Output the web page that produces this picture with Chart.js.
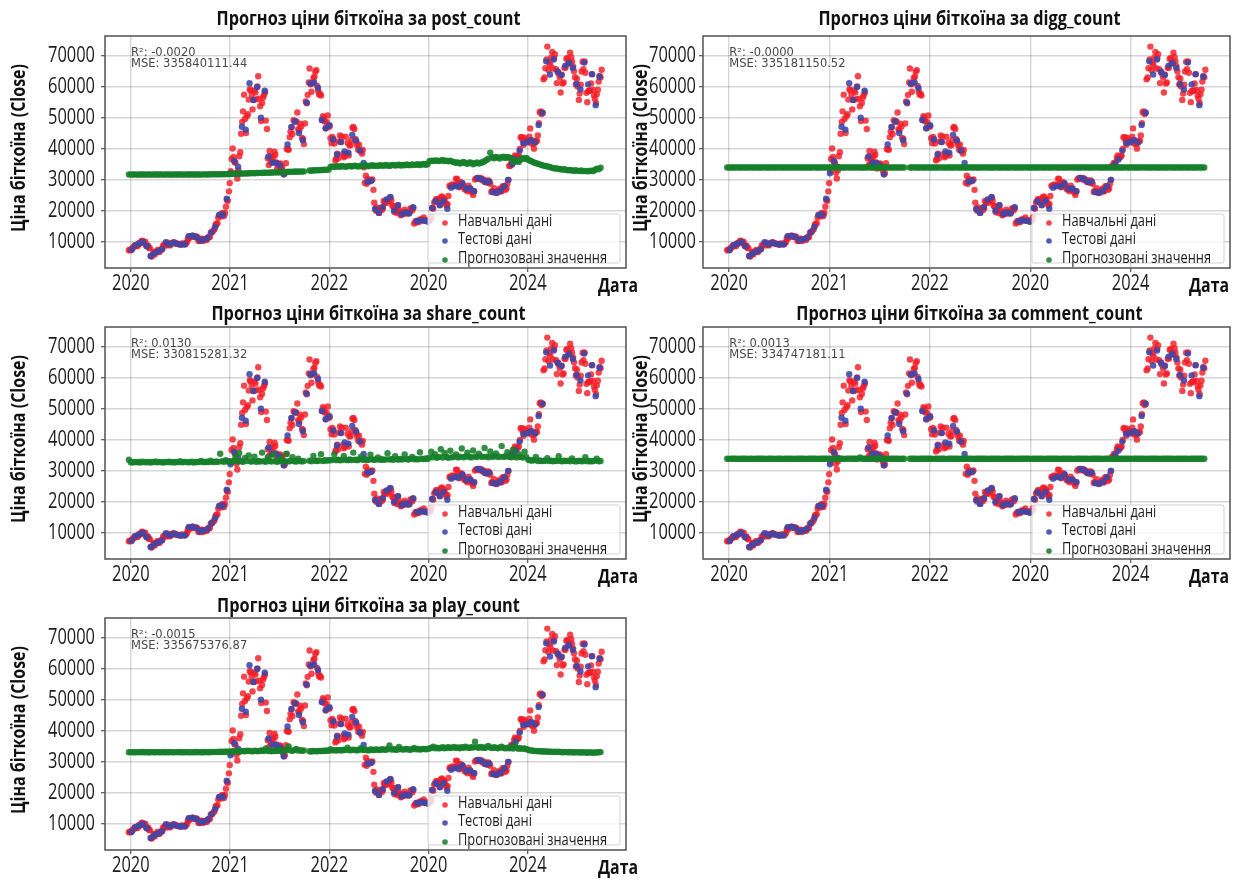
<!DOCTYPE html>
<html>
<head>
<meta charset="utf-8">
<script src="https://cdn.jsdelivr.net/npm/chart.js@4.4.1/dist/chart.umd.min.js"></script>
<style>
  html, body { margin: 0; padding: 0; background: #ffffff; }
  #wrap { position: relative; width: 1238px; height: 883px; overflow: hidden; background: #ffffff; }
  #wrap canvas { position: absolute; left: 0; top: 0; }
</style>
</head>
<body>
<div id="wrap"></div>
<script>
// ---------------------------------------------------------------------------
// Data
// Training closes: Wednesdays from 25 Dec 2019 (day -7 relative to 1 Jan 2020)
const wedStartDay = -7;
const closeTrainWed = [
  7250,
  // 2020
  7200, 8080, 8820, 8660, 9390, 9620, 10350, 9600, 8790, 8760,
  7910, 5230, 6700, 6640, 7300, 6640, 7550, 8790, 9160, 9310,
  9080, 9200, 9670, 9770, 9460, 9250, 9230, 9430, 9130, 9530,
  11100, 11760, 11570, 11750, 11470, 11400, 10240, 10950, 10230, 10780,
  10600, 11430, 12820, 13270, 14130, 15700, 17800, 18730, 19200, 18320,
  21300, 23240, 28950,
  // 2021
  36770, 37390, 35510, 30430, 37620, 44880, 52150, 49710, 50540, 55950,
  58920, 52780, 58920, 56050, 63500, 53800, 54860, 57420, 49150, 37000,
  39300, 37570, 37350, 38100, 33700, 35040, 33800, 32820, 32110, 39970,
  39750, 45590, 44800, 48990, 48850, 46400, 48150, 43580, 41560, 55360,
  57480, 65990, 58480, 62940, 64950, 60370, 57570, 57230, 50580, 48900,
  48640, 47190,
  // 2022
  43450, 43900, 41740, 36850, 36900, 44350, 43940, 37300, 43920, 41980,
  41140, 42910, 47060, 43200, 41150, 41370, 39240, 39700, 29030, 28720,
  29540, 29800, 30110, 22580, 19970, 20100, 20550, 20250, 23160, 22930,
  22610, 23950, 23340, 21530, 20050, 19290, 20230, 18550, 19420, 20340,
  19150, 19130, 20770, 20160, 15880, 16670, 16600, 17170, 17090, 17800,
  16820, 16550,
  // 2023
  16850, 17940, 20680, 23060, 23730, 22960, 24320, 24190, 23650, 21700,
  24770, 28110, 28470, 28170, 30390, 28820, 28430, 29030, 27650, 27410,
  26330, 27220, 26350, 25120, 30080, 30450, 30510, 30630, 29860, 29350,
  29700, 29770, 28700, 26430, 27300, 25750, 26230, 27130, 26360, 27790,
  26760, 28720, 34500, 35420, 35650, 37880, 37290, 37860, 43790, 42890,
  43650, 42580,
  // 2024
  42840, 46630, 42740, 40080, 42580, 44340, 51840, 51300, 62500, 66110,
  73080, 67910, 69460, 65980, 70590, 61280, 64300, 58250, 61190, 66210,
  69120, 67580, 71080, 68240, 65150, 60840, 60200, 57890, 65040, 65810,
  64620, 55120, 58740, 61180, 59040, 56180, 57640, 61770, 63140
];

// Training closes: Sundays from 29 Dec 2019 (day -3)
const sunStartDay = -3;
const closeTrainSun = [
  7390,
  // 2020
  7760, 8190, 8700, 8600, 9340, 10160, 9930, 9980, 8560, 8030,
  5360, 5830, 5880, 6780, 6910, 7120, 7700, 8900, 8750, 9670,
  8790, 9450, 9760, 9390, 9300, 9110, 9070, 9280, 9180, 9930,
  11050, 11680, 11910, 11660, 11710, 10280, 10330, 10920, 10780, 10670,
  11380, 11500, 13030, 13740, 15480, 15960, 18400, 18180, 19150, 19270,
  23480, 26270,
  // 2021
  32780, 40150, 35790, 32290, 33110, 38900, 48720, 57540, 45140, 51210,
  59300, 57520, 55780, 58210, 60200, 56220, 49000, 56630, 58230, 46430,
  34770, 35680, 35800, 39100, 35600, 34650, 35290, 34240, 31780, 35400,
  39870, 43800, 47050, 49320, 48900, 51750, 46060, 47260, 43210, 48200,
  54770, 61530, 60930, 61320, 63330, 65470, 58620, 57810, 49400, 50100,
  46700, 50800,
  // 2022
  47350, 41860, 43110, 36280, 38480, 42410, 42200, 38350, 37710, 38420,
  37850, 41250, 46820, 46410, 42210, 39720, 39450, 38470, 34060, 31300,
  30290, 29440, 29900, 26760, 20550, 21030, 19300, 20850, 20790, 22580,
  23340, 23180, 24310, 21530, 19560, 19990, 21830, 19420, 18800, 19050,
  19440, 19270, 19570, 20630, 20910, 16330, 16290, 16460, 17130, 17100,
  16740, 16840,
  // 2023
  16620, 17130, 20880, 22710, 23770, 22940, 21790, 24640, 23560, 22430,
  22160, 28040, 27990, 28200, 28330, 30310, 27590, 29230, 28450, 26920,
  26750, 28070, 27120, 25850, 26340, 30480, 30620, 30170, 30230, 30080,
  29280, 29050, 29410, 26100, 26100, 25970, 25840, 26530, 26250, 27980,
  27940, 27160, 29990, 34530, 35050, 37060, 37360, 37480, 39980, 43780,
  41360, 43010, 42270,
  // 2024
  43940, 41730, 41580, 42030, 42580, 48300, 52140, 51730, 63110, 68960,
  65490, 67210, 71330, 69360, 65740, 64940, 63110, 63980, 61480, 66270,
  69400, 67760, 69640, 66640, 63210, 62680, 55850, 60790, 68160, 68250,
  58120, 58710, 58970, 64180, 57300, 54840, 59130, 63580, 65600
];

// Held-out closes: every second Saturday from 4 Jan 2020 (day 3)
const testStartDay = 3;
const testStepDays = 14;
const closeTest = [
  7410, 8900, 9390, 9900, 8540, 5380, 6250, 6880, 7550, 9810,
  9170, 9670, 9300, 9070, 9170, 11810, 11910, 11540, 10440, 10730,
  11300, 13030, 14820, 18680, 18700, 23860, 32130, 36070, 34270, 47170,
  46190, 61240, 55840, 60040, 50090, 58800, 37530, 35520, 35480, 34660,
  31780, 41460, 47100, 48900, 45160, 42810, 54970, 61130, 61520, 59700,
  49370, 46680, 47690, 43080, 38170, 42210, 39140, 38810, 44550, 42750,
  39520, 35470, 29430, 29700, 20550, 19300, 21210, 23630, 24440, 20040,
  21770, 18930, 19450, 19170, 21150, 16700, 16890, 16760, 16550, 20880,
  23080, 21860, 23160, 20630, 27480, 27950, 27820, 28860, 27120, 27250,
  26340, 30590, 30290, 29320, 29410, 26010, 25900, 26530, 27950, 29990,
  35050, 36570, 39460, 41930, 42150, 42850, 42120, 47770, 51730, 68310,
  64040, 68900, 64940, 63890, 66940, 67760, 66190, 60970, 59210, 67910,
  60880, 64180, 54150, 63350
];

// Model predictions on the Wednesday dates (null = date missing)
const predPost = [
  31750, 31700, 31720, 31760, 31700, 31740, 31710, 31760, 31730, 31700,
  31750, 31720, 31700, 31760, 31740, 31710, 31730, 31760, 31700, 31720,
  31750, 31740, 31700, 31730, 31760, 31720, 31710, 31750, 31740, 31700,
  31760, 31730, 31720, 31750, 31710, 31740, 31760, 31730, 31700, 31750,
  31780, 31740, 31760, 31800, 31770, 31790, 31820, 31780, 31800, 31830,
  31810, 31850, 31830, 31860,
  31900, 31950, 31880, 32000, 31960, 32050, 32020, 32100, 32060, 32150,
  32120, 32180, 32150, 32220, 32200, 32260, 32230, 32300, 32280, 32340,
  32310, 32380, 32350, 32420, 32400, 32450, 32430,
  32500, 32560, 32520, 32600, 32580, 32650, 32620, 32680, 32640, 32700,
  32660, 32720, null, null,
  33000, 32950, 33080, 33050, 33150, 33100, 33200, 33180, 33260, 33220, 33300,
  34200, 34350, 34150, 34400, 34300, 34250, 34450, 34350, 34200, 34400,
  34500, 34300, 34450, 34550, 34400, 34350, 34600, 34450, 34500, 34650,
  34400, 34550, 34700, 34500, 34600, 34450, 34750, 34600, 34550, 34800,
  34650, 34500, 34700, 34850, 34600, 34750, 34900, 34650, 34800, 34700,
  34950, 34800, 34750, 35000, 34850, 34900, 35050, 34800, 34950, 35100,
  34900, 35050,
  36000, 36200, 36100, 36300, 36150, 36050, 36250, 36400, 36100, 36200,
  36000, 36150, 35900,
  35700, 35500, 35600, 35300, 35500, 35800, 35400, 35200, 35600, 35500,
  35000, 35400, 35600, 35300, 35500, 35700,
  36000, 36400, 36800, 38800,
  37300, 37000, 37400, 37200, 36900, 37300, 37500, 37100, 37400, 37200, 37000,
  36100, 35900, 36200, 35800, 36600, 37000, 36800, 37100,
  36500, 36200, 35900, 35600, 35400, 35200, 35000, 34800, 34600, 34500,
  34300, 34200, 34000,
  33800, 33700, 33650, 33500, 33450, 33300, 33400, 33200, 33100, 33200,
  33000, 32950, 33100, 32900, 32850, 33000, 32800, 32900, 32750, 32850,
  32950, 32800,
  33200, 33600, 33400, 33900
];

const predDigg = [
  34000, 33980, 34020, 33990, 34010, 34030, 33970, 34000, 34020, 33990,
  34010, 33980, 34030, 34000, 33970, 34020, 34010, 33990, 34000, 34030,
  33980, 34010, 34000, 34020, 33990, 33970, 34010, 34030, 34000, 33980,
  34020, 34000, 33990, 34010, 34030, 33980, 34000, 34020, 33990, 34010,
  34000, 33970, 34020, 34010, 33990, 34030, 34000, 33980, 34010, 34020,
  33990, 34000, 34030, 34010, 33980, 34020, 34000, 33990, 34010, 34030,
  34000, 33980, 34020, 34040, 33990, 34010, 34000, 34030, 33980, 34020,
  34010, 34000, 33990, 34030, 34020, 33980, 34010, 34000, 34040, 33990,
  34020, 34000, 34010, 33980, 34030, 34000, 33990, 34020, 34010, 34000,
  33980, 34020, 34010, null, null, 34000, 33990, 34030, 34010, 33980,
  34000, 34020, 33990, 34010, 34030, 34000, 34010, 33980, 34020, 34000,
  33990, 34030, 34010, 34000, 33980, 34020, 34010, 33990, 34000, 34030,
  34010, 33980, 34000, 34020, 33990, 34010, 34030, 34000, 33980, 34020,
  34000, 34010, 33990, 34030, 34000, 34020, 33980, 34010, 34000, 33990,
  34030, 34010, 34000, 33980, 34020, 34000, 34010, 33990, 34030, 34000,
  33980, 34020, 34010, 34000, 33990, 34030, 34000, 34010, 33980, 34020,
  34000, 33990, 34010, 34030, 34000, 33980, 34020, 34010, 34000, 33990,
  34030, 34000, 34010, 33980, 34020, 34000, 33990, 34010, 34030, 34000,
  33980, 34020, 34000, 34010, 33990, 34030, 34000, 34020, 33980, 34010,
  34000, 33990, 34030, 34010, 34000, 33980, 34020, 34000, 34010, 33990,
  34030, 34000, 33980, 34020, 34010, 34000, 33990, 34030, 34000, 34010,
  33980, 34020, 34000, 34010, 33990, 34030, 34000, 34020, 33980, 34010,
  34000, 33990, 34030, 34010, 34000, 33980, 34020, 34000, 34010, 33990,
  34030, 34000, 34010, 33980, 34020, 34000, 33990, 34010, 34030, 34000,
  33980, 34020, 34000, 34010, 33990, 34030, 34000, 34020, 34010
];

const predShare = [
  33600, 32800, 32700, 32900, 32750, 32850, 32700, 32950, 32800, 32750,
  32900, 32700, 32850, 32800, 33000, 32750, 32900, 32800, 32700, 32850,
  32800, 32950, 32750, 32850, 32700, 32900, 32800, 33100, 32750, 32850,
  32900, 32750, 32800, 32950, 32700, 32850, 32800, 32900, 33200, 32800,
  32850, 32950, 32800, 33300, 32900, 32850, 33000, 32900, 35500, 33100,
  32950, 33400, 33000, 33100, 32900, 33200, 34500, 33000, 35800, 33100,
  32900, 34200, 33200, 35000, 33000, 33100, 34600, 32950, 33200, 33000,
  35900, 33100, 32900, 34300, 33200, 33000, 35200, 33100, 32950, 33200,
  34000, 33000, 33150, 35500, 33050, 33200, 34400, 33100, 33000, 33900,
  33200, 33050, 33150, null, null, 33300, 33100, 34800, 33250, 33150,
  33350, 35400, 33200, 33400, 33300, 33450, 33400, 33550, 35400, 33450,
  33600, 33400, 33500, 34800, 33550, 33450, 33650, 33500, 35900, 33600,
  33450, 33650, 34600, 33550, 33700, 33500, 33600, 35200, 33650, 33550,
  33700, 34300, 33600, 33750, 33550, 33700, 35700, 33650, 33800, 33600,
  34700, 33750, 33650, 33850, 33700, 35300, 33800, 33650, 33900, 34500,
  33750, 33850, 33700, 36000, 33900, 33800, 34000, 33850, 34300, 36200,
  34400, 35400, 34200, 34500, 37000, 34300, 35800, 34450, 34250, 36500,
  34400, 34600, 35300, 34350, 34550, 37200, 34400, 34650, 35900, 34500,
  34350, 36600, 34600, 34450, 35500, 34700, 34500, 37400, 34600, 34400,
  36300, 34550, 34700, 35600, 34450, 34600, 38000, 34500, 34700, 36000,
  34600, 34400, 36800, 34550, 34350, 35400, 34500, 34300, 36200, 34400,
  33600, 33400, 33300, 33500, 34500, 33200, 33350, 33150, 33300, 33250,
  34100, 33200, 33300, 33100, 33250, 33150, 34700, 33200, 33100, 33300,
  33150, 33250, 33100, 34000, 33200, 33050, 33150, 33250, 33100, 33200,
  34400, 33100, 33200, 33050, 33150, 33300, 33900, 33100, 33200
];

const predComment = [
  33900, 33880, 33920, 33890, 33910, 33930, 33870, 33900, 33920, 33890,
  33910, 33880, 33930, 33900, 33870, 33920, 33910, 33890, 33900, 33930,
  33880, 33910, 33900, 33920, 33890, 33870, 33910, 33930, 33900, 33880,
  33920, 33900, 33890, 33910, 33930, 33880, 33900, 33920, 33890, 33910,
  33900, 33870, 33920, 33910, 33890, 33930, 33900, 33880, 33910, 33920,
  33890, 33900, 33930, 33910, 33880, 33920, 33900, 33890, 33910, 33930,
  33900, 33880, 33920, 33940, 33890, 33910, 33900, 33930, 33880, 34300,
  33910, 33900, 33890, 33930, 33920, 33880, 33910, 33900, 33940, 33890,
  33920, 33900, 33910, 33880, 33930, 33900, 33890, 33920, 33910, 33900,
  33880, 33920, 33910, null, null, 33900, 33890, 33930, 33910, 33880,
  33900, 33920, 33890, 33910, 33930, 33900, 33910, 33880, 33920, 33900,
  33890, 33930, 33910, 33900, 33880, 33920, 33910, 33890, 33900, 33930,
  33910, 33880, 33900, 33920, 33890, 33910, 33930, 33900, 33880, 33920,
  33900, 33910, 33890, 33930, 33900, 33920, 33880, 33910, 33900, 33890,
  33930, 33910, 33900, 33880, 33920, 33900, 33910, 33890, 33930, 33900,
  33880, 33920, 33910, 33900, 33890, 33930, 33900, 33910, 33880, 33920,
  33900, 33890, 33910, 33930, 33900, 33880, 33920, 33910, 33900, 33890,
  33930, 33900, 33910, 33880, 33920, 33900, 33890, 33910, 33930, 33900,
  33880, 33920, 33900, 33910, 33890, 33930, 33900, 33920, 33880, 33910,
  33900, 33890, 33930, 33910, 33900, 33880, 33920, 33900, 33910, 33890,
  33930, 33900, 33880, 33920, 33910, 33900, 33890, 33930, 33900, 33910,
  33880, 33920, 33900, 33910, 33890, 33930, 33900, 33920, 33880, 33910,
  33900, 33890, 33930, 33910, 33900, 33880, 33920, 33900, 33910, 33890,
  33930, 33900, 33910, 33880, 33920, 33900, 33890, 33910, 33930, 33900,
  33880, 33920, 33900, 33910, 33890, 33930, 33900, 33920, 33910
];

const predPlay = [
  33100, 33150, 33080, 33120, 33060, 33140, 33100, 33170, 33090, 33130,
  33110, 33060, 33150, 33100, 33080, 33140, 33120, 33070, 33160, 33100,
  33130, 33090, 33150, 33110, 33070, 33140, 33100, 33160, 33080, 33120,
  33150, 33100, 33070, 33130, 33110, 33160, 33090, 33140, 33120, 33080,
  33170, 33130, 33100, 33200, 33150, 33180, 33220, 33160, 33250, 33200,
  33280, 33240, 33300, 33260, 33350, 33420, 33300, 33500, 33380, 33450,
  33520, 33400, 33600, 33480, 33550, 33380, 33620, 33500, 33450, 33580,
  33650, 33480, 34300, 33550, 33600, 33420, 33700, 33520, 33580, 33650,
  33500, 33720, 33600, 34000, 35000, 33700, 33550, 33800, 34200, 33650,
  33750, 33600, 33700, null, null, 33400, 33350, 33500, 33450, 33400,
  33550, 33450, 33600, 33500, 33650, 33550, 34100, 33700, 33800, 33650,
  33850, 33750, 33700, 33900, 33800, 34600, 33750, 33850, 33950, 33800,
  33700, 33900, 34400, 33850, 33950, 33800, 33700, 34000, 33900, 33850,
  34000, 33900, 33800, 34050, 33950, 33900, 34100, 35300, 33950, 34050,
  34000, 33900, 34800, 34100, 33950, 34050, 34150, 34000, 33900, 34100,
  34500, 34050, 34150, 34000, 34100, 34200, 34050, 34150, 34300, 34500,
  34900, 34400, 34600, 34350, 34500, 34700, 34400, 34550, 34700, 34450,
  34600, 34800, 34500, 34650, 34400, 34700, 34550, 34900, 34600, 34500,
  34750, 34600, 36500, 34700, 34550, 34800, 34650, 34500, 34700, 35100,
  34600, 34450, 34700, 34550, 34400, 34650, 34900, 34500, 34350, 34600,
  34400, 34550, 34300, 35300, 34450, 34250, 34400, 34200, 34350, 34100,
  33900, 33700, 33650, 33500, 33550, 33400, 33450, 33350, 33400, 33300,
  33350, 33250, 33300, 33200, 33300, 33150, 33250, 33200, 33100, 33200,
  33150, 33050, 33200, 33100, 33000, 33150, 33050, 33100, 33000, 33100,
  33050, 32950, 33100, 33000, 32950, 33050, 33000, 33100, 33150
];

const features = ['post_count', 'digg_count', 'share_count', 'comment_count', 'play_count'];
const predictions = [predPost, predDigg, predShare, predComment, predPlay];
const r2Scores = ['-0.0020', '-0.0000', '0.0130', '0.0013', '-0.0015'];
const mseScores = ['335840111.44', '335181150.52', '330815281.32', '334747181.11', '335675376.87'];

const xTickYears = [2020, 2021, 2022, 2023, 2024];
const xTickLabels = ['2020', '2021', '2022', '2020', '2024'];
const yTickValues = [10000, 20000, 30000, 40000, 50000, 60000, 70000];

const seriesLabels = ['Навчальні дані', 'Тестові дані', 'Прогнозовані значення'];
const titlePrefix = 'Прогноз ціни біткоїна за ';
const yAxisTitle = 'Ціна біткоїна (Close)';
const xAxisTitle = 'Дата';

// ---------------------------------------------------------------------------
// Layout and style
const W = 1238, H = 883;
const BASE = "'Open Sans', 'Noto Sans', 'DejaVu Sans', sans-serif";
const COLORS = {
  train: 'rgba(244, 28, 38, 0.82)',
  test: 'rgba(58, 72, 172, 0.88)',
  pred: 'rgba(22, 128, 42, 0.88)'
};
const X_MIN = 2019.74, X_MAX = 2024.99;
const Y_MIN = 1490, Y_MAX = 76510;
const Y_W = 100, X_H = 40;
const POINT_R = 3.2;

// condensed text styles: font, and a reference string with the width it should take
const TEXT = {
  tick:   { font: '400 21px ' + BASE, sample: '70000', width: 47 },
  title:  { font: '700 19px ' + BASE, sample: titlePrefix + 'post_count', width: 304 },
  yTitle: { font: '700 19.5px ' + BASE, sample: yAxisTitle, width: 168 },
  legend: { font: '400 17px ' + BASE, sample: 'Прогнозовані значення', width: 149 },
  xLabel: { font: '700 20px ' + BASE, sample: xAxisTitle, width: 40 }
};

// chart-area boxes for the five panels
const panels = [
  { L: 105, T: 36,  R: 626,  B: 268, titleY: 20,  yTitleX: 19,  yTickGap: 10, xLabelDx: 12 },
  { L: 703, T: 36,  R: 1230, B: 268, titleY: 20,  yTitleX: 641, yTickGap: 7,  xLabelDx: -1 },
  { L: 105, T: 327, R: 626,  B: 559, titleY: 315, yTitleX: 19,  yTickGap: 10, xLabelDx: 12 },
  { L: 703, T: 327, R: 1230, B: 559, titleY: 315, yTitleX: 641, yTickGap: 7,  xLabelDx: -1 },
  { L: 105, T: 618, R: 626,  B: 850, titleY: 607, yTitleX: 19,  yTickGap: 10, xLabelDx: 12 }
];

const dayToYear = d => 2020 + d / 365.25;

function seriesPoints(values, startDay, stepDays) {
  const pts = [];
  values.forEach((v, k) => {
    if (v !== null) pts.push({ x: dayToYear(startDay + k * stepDays), y: v });
  });
  return pts;
}

// draws a string horizontally squeezed so that the style's sample string has its set width
function drawText(ctx, style, text, x, y, align, color, rotation) {
  ctx.save();
  ctx.font = style.font;
  const sx = style.width / ctx.measureText(style.sample).width;
  ctx.translate(x, y);
  if (rotation) ctx.rotate(rotation);
  ctx.scale(sx, 1);
  ctx.fillStyle = color;
  ctx.textAlign = align;
  ctx.textBaseline = 'middle';
  ctx.fillText(text, 0, 0);
  ctx.restore();
}

// frame, texts, metrics and the inner legend of one panel
const panelDecor = {
  id: 'panelDecor',
  afterDatasetsDraw(chart, args, o) {
    const { ctx, chartArea: a, scales } = chart;
    const p = o.panel;
    ctx.save();

    // axes frame
    ctx.strokeStyle = '#5c5c5c';
    ctx.lineWidth = 1.6;
    ctx.strokeRect(a.left, a.top, a.right - a.left, a.bottom - a.top);

    // tick labels
    xTickYears.forEach((v, i) => {
      drawText(ctx, TEXT.tick, xTickLabels[i], scales.x.getPixelForValue(v), a.bottom + 16.5, 'center', '#1c1c1c');
    });
    yTickValues.forEach(v => {
      drawText(ctx, TEXT.tick, String(v), a.left - p.yTickGap, scales.y.getPixelForValue(v), 'right', '#1c1c1c');
    });

    // titles
    drawText(ctx, TEXT.title, titlePrefix + o.feature, (a.left + a.right) / 2 + 3, p.titleY, 'center', '#111');
    drawText(ctx, TEXT.yTitle, yAxisTitle, p.yTitleX, (a.top + a.bottom) / 2 - 4, 'center', '#111', -Math.PI / 2);
    drawText(ctx, TEXT.xLabel, xAxisTitle, a.right + p.xLabelDx, a.bottom + 18.5, 'right', '#111');

    // metrics
    const w = a.right - a.left;
    ctx.font = "11.5px 'DejaVu Sans', sans-serif";
    ctx.fillStyle = 'rgba(45, 45, 45, 0.88)';
    ctx.textAlign = 'left';
    ctx.textBaseline = 'middle';
    ctx.fillText('R²: ' + o.r2, a.left + 0.05 * w, a.top + 17.5);
    ctx.fillText('MSE: ' + o.mse, a.left + 0.05 * w, a.top + 28.5);

    // legend box in the lower right corner
    const bx0 = a.right - 198, bx1 = a.right - 6;
    const by0 = a.bottom - 54, by1 = a.bottom - 5;
    ctx.fillStyle = 'rgba(255, 255, 255, 0.8)';
    ctx.strokeStyle = 'rgba(205, 205, 205, 0.9)';
    ctx.lineWidth = 1;
    ctx.beginPath();
    ctx.roundRect(bx0, by0, bx1 - bx0, by1 - by0, 2);
    ctx.fill();
    ctx.stroke();
    const rowsY = [a.bottom - 47, a.bottom - 29, a.bottom - 10];
    const cols = [COLORS.train, COLORS.test, COLORS.pred];
    seriesLabels.forEach((lab, i) => {
      ctx.fillStyle = cols[i];
      ctx.beginPath();
      ctx.arc(bx0 + 17, rowsY[i] + 2, 2.8, 0, Math.PI * 2);
      ctx.fill();
      drawText(ctx, TEXT.legend, lab, bx0 + 30, rowsY[i], 'left', '#1e1e1e');
    });

    ctx.restore();
  }
};

const wrap = document.getElementById('wrap');

panels.forEach((p, i) => {
  const cv = document.createElement('canvas');
  cv.width = W;
  cv.height = H;
  wrap.appendChild(cv);

  const trainPts = seriesPoints(closeTrainWed, wedStartDay, 7)
    .concat(seriesPoints(closeTrainSun, sunStartDay, 7));

  new Chart(cv, {
    type: 'scatter',
    data: {
      datasets: [
        { label: seriesLabels[0], data: trainPts, backgroundColor: COLORS.train,
          borderWidth: 0, pointRadius: POINT_R, order: 3 },
        { label: seriesLabels[1], data: seriesPoints(closeTest, testStartDay, testStepDays),
          backgroundColor: COLORS.test, borderWidth: 0, pointRadius: POINT_R, order: 2 },
        { label: seriesLabels[2], data: seriesPoints(predictions[i], wedStartDay, 7),
          backgroundColor: COLORS.pred, borderWidth: 0, pointRadius: POINT_R, order: 1 }
      ]
    },
    options: {
      responsive: false,
      animation: false,
      devicePixelRatio: 1,
      events: [],
      layout: {
        padding: { left: p.L - Y_W, right: W - p.R, top: p.T, bottom: H - p.B - X_H }
      },
      plugins: {
        legend: { display: false },
        tooltip: { enabled: false },
        title: { display: false },
        panelDecor: { panel: p, feature: features[i], r2: r2Scores[i], mse: mseScores[i] }
      },
      scales: {
        x: {
          type: 'linear',
          min: X_MIN,
          max: X_MAX,
          afterBuildTicks: s => { s.ticks = xTickYears.map(v => ({ value: v })); },
          afterFit: s => { s.height = X_H; },
          ticks: { display: false },
          grid: { color: 'rgba(0,0,0,0.16)', lineWidth: 1.4, drawTicks: true, tickLength: 4,
                  tickColor: '#555', tickWidth: 1.2 },
          border: { display: false }
        },
        y: {
          type: 'linear',
          min: Y_MIN,
          max: Y_MAX,
          afterBuildTicks: s => { s.ticks = yTickValues.map(v => ({ value: v })); },
          afterFit: s => { s.width = Y_W; },
          ticks: { display: false },
          grid: { color: 'rgba(0,0,0,0.16)', lineWidth: 1.4, drawTicks: true, tickLength: 4,
                  tickColor: '#555', tickWidth: 1.2 },
          border: { display: false }
        }
      }
    },
    plugins: [panelDecor]
  });
});
</script>
</body>
</html>
